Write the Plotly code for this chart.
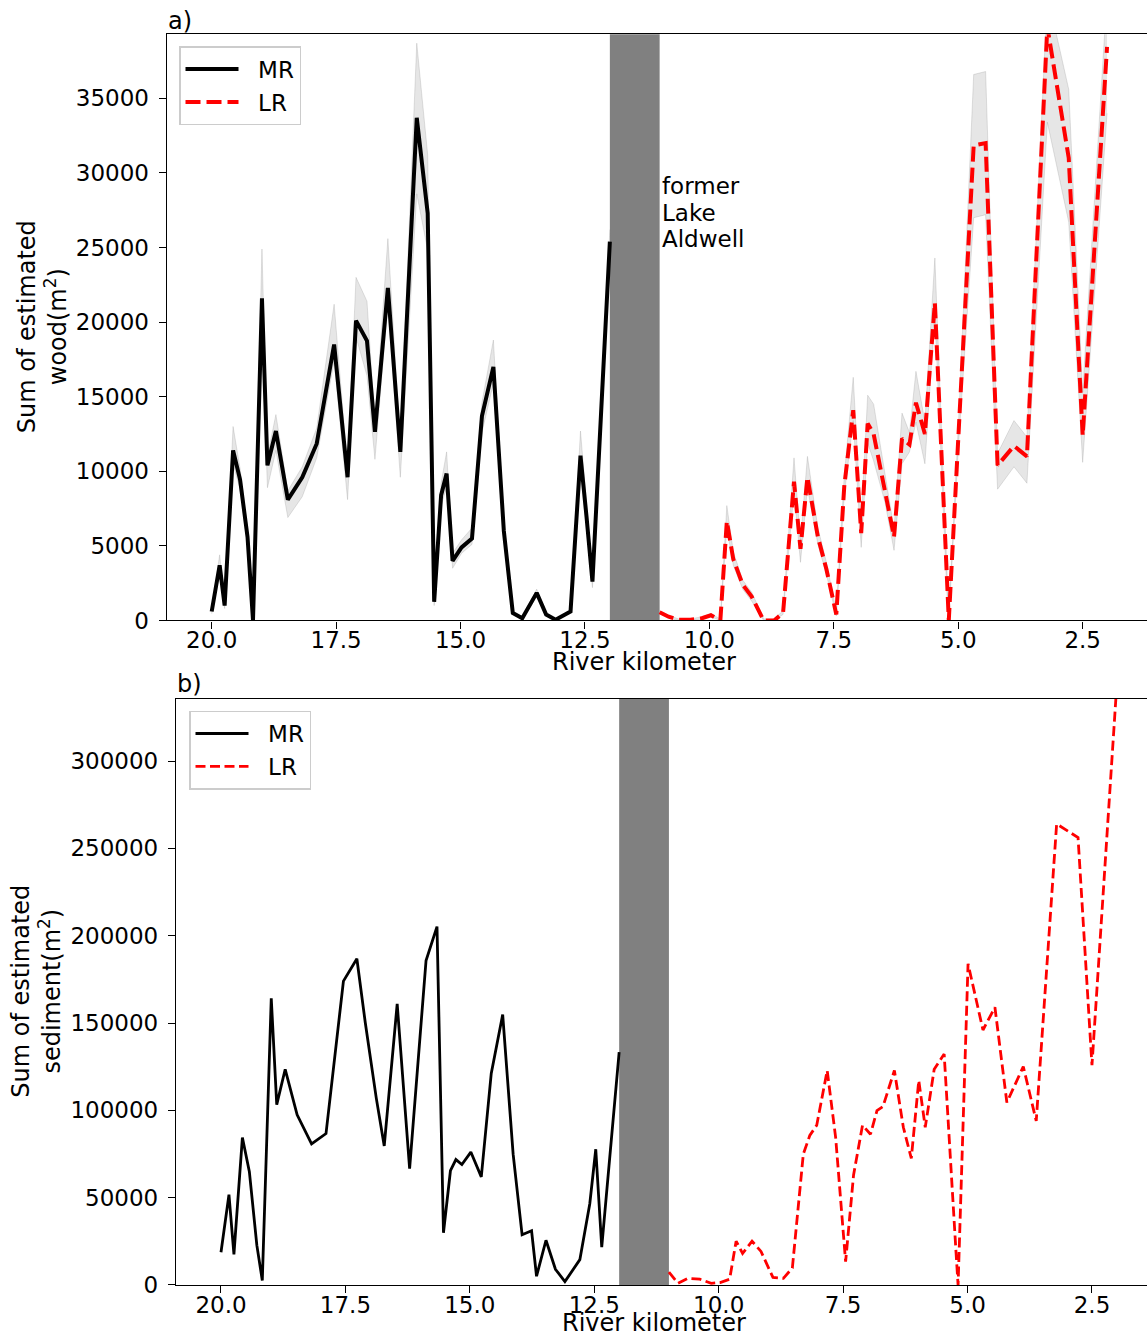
import plotly.graph_objects as go

# ---------------- data ----------------
# River kilometer positions (Middle Reach, MR) and (Lower Reach, LR)
x_mr = [20.0, 19.84, 19.74, 19.57, 19.43, 19.28, 19.17, 18.99, 18.88, 18.71, 18.47, 18.18,
        17.89, 17.54, 17.27, 17.10, 16.88, 16.72, 16.46, 16.21, 15.88, 15.66, 15.53, 15.39,
        15.28, 15.16, 14.98, 14.77, 14.57, 14.34, 14.13, 13.95, 13.76, 13.66, 13.47, 13.28,
        13.09, 12.79, 12.59, 12.47, 12.35, 12.0]
x_lr = [11.0, 10.82, 10.62, 10.38, 10.15, 9.97, 9.78, 9.65, 9.52, 9.33, 9.15, 8.91, 8.70,
        8.52, 8.30, 8.17, 8.03, 7.82, 7.65, 7.45, 7.29, 7.11, 6.95, 6.82, 6.70, 6.47, 6.29,
        6.13, 5.98, 5.85, 5.67, 5.47, 5.23, 5.19, 4.99, 4.69, 4.45, 4.21, 3.88, 3.62, 3.21,
        2.78, 2.50, 2.01]

# a) wood (m2)
wood_mr = [600, 3700, 1000, 11400, 9450, 5600, 0, 21600, 10400, 12700, 8100, 9600,
           11850, 18500, 9600, 20100, 18750, 12650, 22300, 11300, 33700, 27300, 1250, 8400,
           9850, 4000, 4900, 5500, 13700, 17000, 6000, 500, 150, 700, 1850, 400,
           50, 600, 11050, 7000, 2600, 25400]
wood_mr_low = [450, 3200, 800, 10500, 8800, 5100, 0, 19500, 8900, 11400, 6900, 8300,
               10900, 17400, 8100, 19000, 16400, 10800, 21300, 9600, 28600, 24800, 1000, 7700,
               8900, 3500, 4500, 5100, 12600, 15900, 5500, 400, 100, 550, 1600, 300,
               0, 500, 10000, 6300, 2200, 24500]
wood_mr_high = [750, 4400, 1200, 13000, 10200, 6100, 100, 24900, 11000, 13800, 8700, 10300,
                12900, 21200, 10200, 23000, 21400, 13200, 25600, 11900, 38700, 31200, 1550, 9200,
                11300, 4500, 5400, 6200, 14600, 18800, 6500, 650, 250, 850, 2100, 500,
                100, 700, 12700, 7800, 3000, 26200]

wood_lr = [550, 250, 50, 50, 150, 350, 0, 6650, 4100, 2400, 1600, 0, 0,
           500, 9300, 4800, 9600, 5600, 3450, 400, 9000, 14100, 5850, 13200, 12500, 8800, 5600,
           12200, 11800, 14600, 12500, 21300, 2400, 0, 12800, 31850, 32000, 10400, 11700, 11000, 39800,
           31000, 12400, 38450]
wood_lr_low = [450, 150, 0, 0, 100, 250, 0, 6200, 3700, 2100, 1300, 0, 0,
               400, 8700, 3900, 8900, 5100, 3100, 300, 8400, 13400, 4900, 11900, 10700, 7900, 4700,
               10500, 11300, 13300, 10500, 20500, 2000, 0, 12000, 27000, 27200, 8800, 10300, 9200, 33400,
               26700, 10600, 34000]
wood_lr_high = [650, 350, 100, 100, 250, 450, 100, 7700, 4600, 2700, 1900, 100, 100,
                650, 10900, 5300, 11000, 6200, 3900, 600, 9700, 16300, 6600, 15100, 14500, 9800, 6100,
                13900, 12600, 16700, 13300, 24300, 2800, 200, 13600, 36600, 36800, 11200, 13400, 12300, 42000,
                35600, 15300, 42000]

# b) sediment (m2)
sed_mr = [18700, 51700, 17500, 84400, 64900, 22800, 2600, 164200, 103300, 123500, 97400, 80800,
          86700, 174000, 186800, 150000, 107000, 79600, 160900, 66600, 185800, 205200, 29900, 65400,
          71800, 69000, 76100, 61900, 121100, 154800, 74900, 28700, 31000, 5000, 25600, 9000,
          1900, 14500, 46500, 77700, 21600, 133400]
sed_lr = [7300, 950, 3800, 3300, 950, 1400, 3300, 25100, 18000, 25100, 19200, 4300, 3800,
          9700, 74900, 85600, 91500, 122800, 84400, 13300, 63000, 91500, 86300, 99800, 102100, 122800, 90300,
          72500, 117100, 90300, 123500, 132200, 18000, 0, 183900, 146000, 159000, 104500, 125100, 93900, 264000,
          256200, 125800, 340000]

# former Lake Aldwell extent (river km)
lake_start, lake_end = 12.0, 11.0
lake_label_lines = ["former", "Lake", "Aldwell"]

x_tickvals = [20.0, 17.5, 15.0, 12.5, 10.0, 7.5, 5.0, 2.5]
x_ticktext = ["20.0", "17.5", "15.0", "12.5", "10.0", "7.5", "5.0", "2.5"]
wood_ticks = [0, 5000, 10000, 15000, 20000, 25000, 30000, 35000]
sed_ticks = [0, 50000, 100000, 150000, 200000, 250000, 300000]

series_names = ["MR", "LR"]
x_label = "River kilometer"
wood_label = "Sum of estimated<br>wood(m<sup>2</sup>)"
sed_label = "Sum of estimated<br>sediment(m<sup>2</sup>)"
panel_labels = ["a)", "b)"]

# ---------------- figure ----------------
W, REF_H, FIG_H = 1147, 1338, 1352
FONT = "DejaVu Sans"
band_fill = "rgba(128,128,128,0.2)"
band_edge = "rgba(128,128,128,0.22)"
legend_pad = "\u00a0\u00a0"


def fx(px):  # reference pixel -> paper x
    return px / W


def fy(py):  # reference pixel -> paper y
    return 1 - py / REF_H


fig = go.Figure()

# top panel bands
for xs, lo, hi in [(x_mr, wood_mr_low, wood_mr_high), (x_lr, wood_lr_low, wood_lr_high)]:
    fig.add_trace(go.Scatter(x=xs, y=lo, mode="lines", line=dict(color=band_edge, width=1),
                             showlegend=False, hoverinfo="skip", xaxis="x", yaxis="y"))
    fig.add_trace(go.Scatter(x=xs, y=hi, mode="lines", line=dict(color=band_edge, width=1),
                             fill="tonexty", fillcolor=band_fill,
                             showlegend=False, hoverinfo="skip", xaxis="x", yaxis="y"))

# top panel lines
fig.add_trace(go.Scatter(x=x_mr, y=wood_mr, mode="lines", name=legend_pad + series_names[0],
                         line=dict(color="black", width=4), xaxis="x", yaxis="y", legend="legend"))
fig.add_trace(go.Scatter(x=x_lr, y=wood_lr, mode="lines", name=legend_pad + series_names[1],
                         line=dict(color="red", width=4, dash="15px,6px"), xaxis="x", yaxis="y",
                         legend="legend"))

# bottom panel lines
fig.add_trace(go.Scatter(x=x_mr, y=sed_mr, mode="lines", name=legend_pad + series_names[0],
                         line=dict(color="black", width=2.8), xaxis="x2", yaxis="y2", legend="legend2"))
fig.add_trace(go.Scatter(x=x_lr, y=sed_lr, mode="lines", name=legend_pad + series_names[1],
                         line=dict(color="red", width=2.8, dash="10px,4.5px"), xaxis="x2", yaxis="y2",
                         legend="legend2"))

axis_common = dict(showline=True, linecolor="black", linewidth=1.3, ticks="outside", ticklen=7,
                   tickwidth=1.3, tickcolor="black", showgrid=False, zeroline=False,
                   tickfont=dict(family=FONT, size=23, color="black"))
xaxis_common = dict(tickvals=x_tickvals, ticktext=x_ticktext, mirror=True,
                    ticklabelstandoff=-8, **axis_common)
yaxis_common = dict(tickformat="d", ticklabelstandoff=5, **axis_common)

legend_common = dict(xanchor="left", yanchor="top", traceorder="normal",
                     bgcolor="rgba(255,255,255,0.85)", bordercolor="#cccccc", borderwidth=1.5,
                     font=dict(family=FONT, size=23, color="black"), itemwidth=53,
                     tracegroupgap=0)

fig.update_layout(
    width=W, height=FIG_H,
    margin=dict(l=0, r=0, t=0, b=0),
    paper_bgcolor="white", plot_bgcolor="white",
    font=dict(family=FONT, size=23, color="black"),
    xaxis=dict(domain=[fx(166.7), 1], range=[20.904, 20 - (W - 211.7) / 49.77],
               anchor="y", **xaxis_common),
    yaxis=dict(domain=[fy(620), fy(34.3)], range=[0, 39293], anchor="x",
               tickvals=wood_ticks, **yaxis_common),
    xaxis2=dict(domain=[fx(176), 1], range=[20.904, 20 - (W - 221) / 49.77],
                anchor="y2", **xaxis_common),
    yaxis2=dict(domain=[fy(1284), fy(698.3)], range=[0, 335640], anchor="x2",
                tickvals=sed_ticks, **yaxis_common),
    legend=dict(x=fx(179), y=fy(46), **legend_common),
    legend2=dict(x=fx(189), y=fy(710), **legend_common),
    showlegend=True,
)

# former Lake Aldwell bands
for xr, yr in [("x", "y domain"), ("x2", "y2 domain")]:
    fig.add_shape(type="rect", xref=xr, yref=yr, x0=lake_start, x1=lake_end, y0=0, y1=1,
                  fillcolor="#808080", line=dict(width=0), layer="below")

annots = []
# lake label
for i, txt in enumerate(lake_label_lines):
    annots.append(dict(text=txt, xref="x", yref="paper", x=lake_end, y=fy(186 + 26.5 * i),
                       xanchor="left", yanchor="middle", showarrow=False,
                       font=dict(family=FONT, size=23, color="black")))
# panel labels
annots.append(dict(text=panel_labels[0], xref="paper", yref="paper", x=fx(166), y=fy(21),
                   xanchor="left", yanchor="middle", showarrow=False,
                   font=dict(family=FONT, size=24, color="black")))
annots.append(dict(text=panel_labels[1], xref="paper", yref="paper", x=fx(175), y=fy(683),
                   xanchor="left", yanchor="middle", showarrow=False,
                   font=dict(family=FONT, size=24, color="black")))
# axis titles
annots.append(dict(text=x_label, xref="paper", yref="paper", x=fx(644), y=fy(662),
                   xanchor="center", yanchor="middle", showarrow=False,
                   font=dict(family=FONT, size=24, color="black")))
annots.append(dict(text=x_label, xref="paper", yref="paper", x=fx(654), y=fy(1322),
                   xanchor="center", yanchor="middle", showarrow=False,
                   font=dict(family=FONT, size=24, color="black")))
annots.append(dict(text=wood_label, xref="paper", yref="paper", x=fx(42), y=fy(327),
                   xanchor="center", yanchor="middle", showarrow=False, textangle=-90,
                   font=dict(family=FONT, size=24, color="black")))
annots.append(dict(text=sed_label, xref="paper", yref="paper", x=fx(37), y=fy(991),
                   xanchor="center", yanchor="middle", showarrow=False, textangle=-90,
                   font=dict(family=FONT, size=24, color="black")))
fig.update_layout(annotations=annots)

fig.write_html(
    "out.html",
    config={"displayModeBar": False},
    post_script=("document.body.style.margin='0px';"
                 "document.body.style.overflow='hidden';"
                 "document.documentElement.style.overflow='hidden';"),
)
